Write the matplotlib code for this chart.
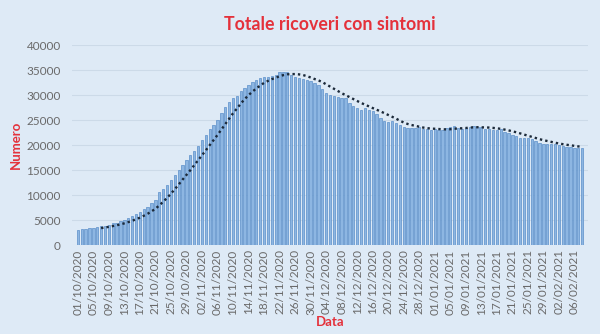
#!/usr/bin/env python3

import matplotlib.pyplot as plt
import pandas as pd

# dati (ricoverati con sintomi, 01/10/2020 - 08/02/2021)
ottobre = [3097, 3204, 3287, 3416, 3487, 3625, 3782, 3925, 4086, 4336,
           4519, 4821, 5076, 5470, 5796, 6178, 6617, 7131, 7676, 8454,
           9057, 10549, 11287, 12006, 12997, 13955, 14981, 15964, 16994, 17966,
           18902]
novembre = [19840, 21114, 21937, 23256, 24005, 25109, 26440, 27636, 28633, 29444,
            29873, 30914, 31398, 32047, 32536, 33074, 33506, 33610, 33656, 33904,
            34063, 34577, 34697, 34577, 33950, 33648, 33497, 33213, 32994, 32811]
dicembre = [32454, 32047, 31200, 30391, 30081, 29873, 29653, 29503, 29331, 28414,
            27765, 27342, 27058, 27335, 27065, 26897, 26167, 25415, 24857, 24628,
            24728, 24484, 23932, 23662, 23333, 23380, 23410, 23566, 23317, 23151,
            22944]
gennaio = [23151, 22981, 23055, 23395, 23566, 23812, 23426, 23317, 23373, 23645,
           23774, 23712, 23635, 23291, 23135, 22934, 22960, 23179, 22699, 22469,
           22045, 21732, 21355, 21393, 21424, 21219, 20778, 20469, 20317, 20180,
           20260]
febbraio = [20200, 20050, 19850, 19650, 19550, 19450, 19480, 19420]

valori = ottobre + novembre + dicembre + gennaio + febbraio
date = pd.date_range('2020-10-01', periods=len(valori), freq='D')
etichette = [d.strftime('%d/%m/%Y') for d in date]

if __name__ == '__main__':
    df = pd.DataFrame({'data': etichette, 'ricoveri': valori})
    media = df['ricoveri'].rolling(7).mean()

    bg = '#DEEAF6'
    rosso = '#E4313B'
    grigio = '#6A6A6A'

    fig = plt.figure(figsize=(6, 3.34), dpi=100, facecolor=bg)
    ax = fig.add_axes([0.12, 0.266, 0.86, 0.599])
    ax.set_facecolor(bg)

    x = range(len(df))
    ax.bar(x, df['ricoveri'], width=0.6, color='#8DB6E2',
           edgecolor='#5B8FC9', linewidth=0.5, zorder=2)
    ax.plot(x, media, color='#1C2A3A', linestyle=(0, (1, 1.3)), linewidth=1.7, zorder=3)

    ax.set_ylim(0, 40000)
    ax.set_yticks(range(0, 40001, 5000))
    ax.set_xlim(-1.5, len(df) + 0.5)
    ax.set_xticks(list(x)[::4])
    ax.set_xticklabels(etichette[::4], rotation=90)
    ax.tick_params(axis='both', length=0, labelsize=8.5, colors=grigio)
    for lab in ax.get_xticklabels() + ax.get_yticklabels():
        lab.set_family('Lato')
    ax.tick_params(axis='y', pad=8)
    ax.tick_params(axis='x', pad=3)

    ax.grid(axis='y', color='#CCDAE8', linewidth=0.8, zorder=0)
    ax.set_axisbelow(True)
    for s in ax.spines.values():
        s.set_visible(False)

    ax.set_title('Totale ricoveri con sintomi', fontsize=12.8, fontweight='bold',
                 color=rosso, family='Lato', pad=11)
    ax.set_ylabel('Numero', fontsize=9.5, fontweight='bold', color=rosso,
                  family='Lato', labelpad=3)
    ax.set_xlabel('Data', fontsize=9.5, fontweight='bold', color=rosso,
                  family='Lato', labelpad=1)

    plt.savefig('out.png', dpi=100, facecolor=bg)
    plt.close()
